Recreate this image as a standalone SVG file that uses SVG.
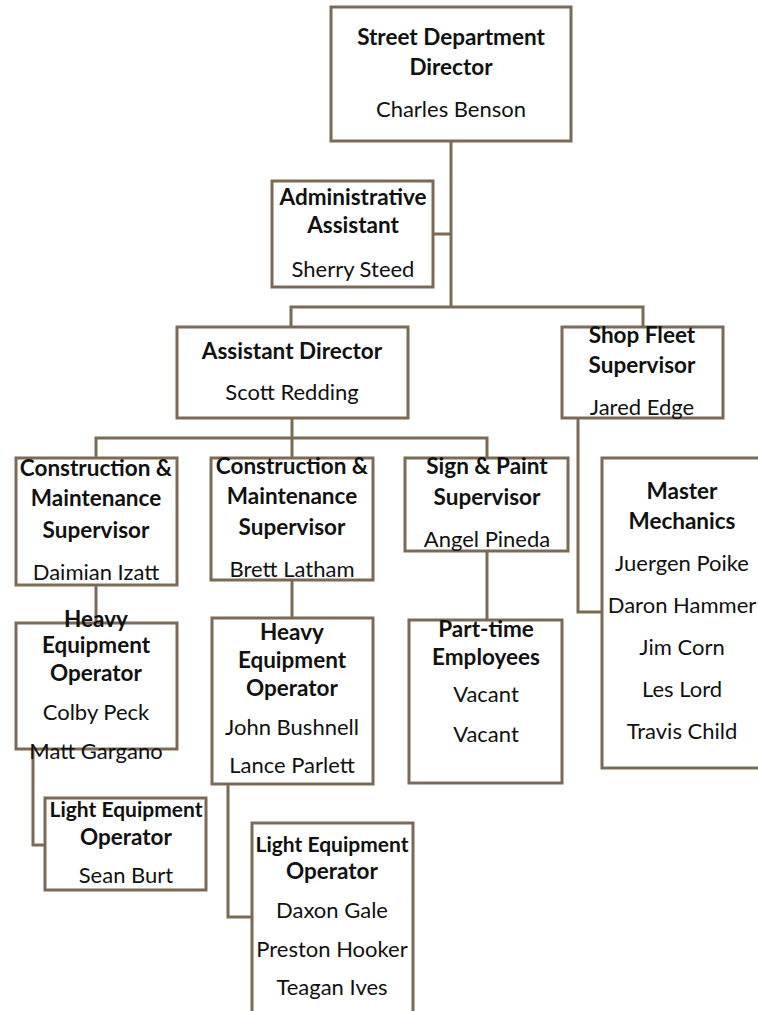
<svg xmlns="http://www.w3.org/2000/svg" width="758" height="1011" viewBox="0 0 758 1011">
  <style>
    .box { fill: #ffffff; stroke: #7b6b56; stroke-width: 3; }
    .line { fill: none; stroke: #7b6b56; stroke-width: 3; }
    text { font-family: "Lato", "Open Sans", "Liberation Sans", sans-serif; text-anchor: middle; fill: #111111; }
    .t { font-size: 22.5px; font-weight: bold; }
    .tn { font-size: 21px; font-weight: bold; }
    .n { font-size: 22px; }
  </style>
  <rect width="758" height="1011" fill="#ffffff"/>

  <g id="connectors">
    <path class="line" d="M451 141 V307"/>
    <path class="line" d="M433 234 H451"/>
    <path class="line" d="M291 327 V307 H643 V327"/>
    <path class="line" d="M292 418 V438"/>
    <path class="line" d="M96 458 V438 H487 V458"/>
    <path class="line" d="M292 438 V458"/>
    <path class="line" d="M578 418 V612 H602"/>
    <path class="line" d="M487 551 V620"/>
    <path class="line" d="M96 585 V622"/>
    <path class="line" d="M292 580 V618"/>
    <path class="line" d="M33 749 V845 H45"/>
    <path class="line" d="M228 784 V917 H252"/>
  </g>

  <g id="director">
    <rect class="box" x="331" y="7" width="240" height="134"/>
    <text class="t" x="451" y="45">Street Department</text>
    <text class="t" x="451" y="75">Director</text>
    <text class="n" x="451" y="117">Charles Benson</text>
  </g>

  <g id="admin-assistant">
    <rect class="box" x="272" y="181" width="161" height="106"/>
    <text class="t" x="353" y="205">Administrative</text>
    <text class="t" x="353" y="233">Assistant</text>
    <text class="n" x="353" y="277">Sherry Steed</text>
  </g>

  <g id="assistant-director">
    <rect class="box" x="177" y="327" width="231" height="91"/>
    <text class="t" x="292" y="359">Assistant Director</text>
    <text class="n" x="292" y="400">Scott Redding</text>
  </g>

  <g id="shop-fleet">
    <rect class="box" x="562" y="327" width="161" height="91"/>
    <text class="t" x="642" y="343">Shop Fleet</text>
    <text class="t" x="642" y="373">Supervisor</text>
    <text class="n" x="642" y="415">Jared Edge</text>
  </g>

  <g id="cm-supervisor-1">
    <rect class="box" x="16" y="458" width="161" height="127"/>
    <text class="t" x="96" y="476">Construction &amp;</text>
    <text class="t" x="96" y="506">Maintenance</text>
    <text class="t" x="96" y="538">Supervisor</text>
    <text class="n" x="96" y="580">Daimian Izatt</text>
  </g>

  <g id="cm-supervisor-2">
    <rect class="box" x="211" y="458" width="162" height="122"/>
    <text class="t" x="292" y="474">Construction &amp;</text>
    <text class="t" x="292" y="504">Maintenance</text>
    <text class="t" x="292" y="535">Supervisor</text>
    <text class="n" x="292" y="577">Brett Latham</text>
  </g>

  <g id="sign-paint">
    <rect class="box" x="405" y="458" width="163" height="93"/>
    <text class="t" x="487" y="474">Sign &amp; Paint</text>
    <text class="t" x="487" y="505">Supervisor</text>
    <text class="n" x="487" y="547">Angel Pineda</text>
  </g>

  <g id="master-mechanics">
    <rect class="box" x="602" y="458" width="158" height="310"/>
    <text class="t" x="682" y="499">Master</text>
    <text class="t" x="682" y="529">Mechanics</text>
    <text class="n" x="682" y="571">Juergen Poike</text>
    <text class="n" x="682" y="613">Daron Hammer</text>
    <text class="n" x="682" y="655">Jim Corn</text>
    <text class="n" x="682" y="697">Les Lord</text>
    <text class="n" x="682" y="739">Travis Child</text>
  </g>

  <g id="part-time">
    <rect class="box" x="409" y="620" width="153" height="163"/>
    <text class="t" x="486" y="637">Part-time</text>
    <text class="t" x="486" y="665">Employees</text>
    <text class="n" x="486" y="702">Vacant</text>
    <text class="n" x="486" y="742">Vacant</text>
  </g>

  <g id="heavy-equipment-1">
    <rect class="box" x="16" y="623" width="161" height="126"/>
    <text class="t" x="96" y="627">Heavy</text>
    <text class="t" x="96" y="653">Equipment</text>
    <text class="t" x="96" y="681">Operator</text>
    <text class="n" x="96" y="720">Colby Peck</text>
    <text class="n" x="96" y="759">Matt Gargano</text>
  </g>

  <g id="heavy-equipment-2">
    <rect class="box" x="212" y="618" width="161" height="166"/>
    <text class="t" x="292" y="640">Heavy</text>
    <text class="t" x="292" y="668">Equipment</text>
    <text class="t" x="292" y="696">Operator</text>
    <text class="n" x="292" y="735">John Bushnell</text>
    <text class="n" x="292" y="773">Lance Parlett</text>
  </g>

  <g id="light-equipment-1">
    <rect class="box" x="45" y="798" width="161" height="92"/>
    <text class="tn" x="126" y="817">Light Equipment</text>
    <text class="t" x="126" y="845">Operator</text>
    <text class="n" x="126" y="883">Sean Burt</text>
  </g>

  <g id="light-equipment-2">
    <rect class="box" x="252" y="823" width="161" height="192"/>
    <text class="tn" x="332" y="852">Light Equipment</text>
    <text class="t" x="332" y="879">Operator</text>
    <text class="n" x="332" y="918">Daxon Gale</text>
    <text class="n" x="332" y="957">Preston Hooker</text>
    <text class="n" x="332" y="995">Teagan Ives</text>
  </g>
</svg>
